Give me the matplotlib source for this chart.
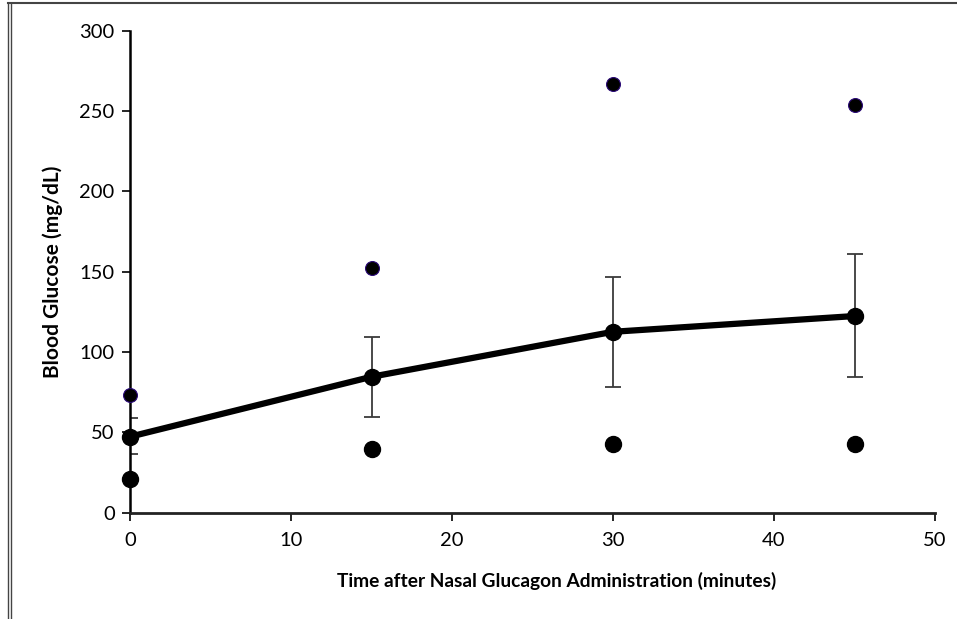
import matplotlib
matplotlib.use("Agg")
import matplotlib.pyplot as plt
from matplotlib.lines import Line2D

time_min = [0, 15, 30, 45]
mean_glucose = [47.3, 84.6, 112.6, 122.4]
err_upper = [11.4, 24.5, 34.0, 38.4]
err_lower = [10.8, 25.2, 34.2, 38.1]
max_glucose = [73.2, 152.6, 266.8, 253.9]
min_glucose = [20.8, 39.5, 42.7, 42.7]

xticks = [0, 10, 20, 30, 40, 50]
yticks = [0, 50, 100, 150, 200, 250, 300]

plt.rcParams['font.family'] = ['Lato', 'DejaVu Sans']

W, H = 957, 619
fig = plt.figure(figsize=(W / 100, H / 100), dpi=100)
ax = fig.add_axes([130 / W, (H - 512.7) / H, (935 - 130) / W, (512.7 - 30.7) / H])

ax.errorbar(time_min, mean_glucose, yerr=[err_lower, err_upper], fmt='none',
            ecolor='#3a3a3a', elinewidth=1.3, capsize=6, capthick=1.3, zorder=2)
ax.plot(time_min, mean_glucose, color='black', lw=4.5, marker='o', ms=11.5,
        zorder=3, clip_on=False)
ax.plot(time_min, max_glucose, ls='none', marker='o', ms=10, color='black',
        mec='#2b0a78', mew=0.8, zorder=3, clip_on=False)
ax.plot(time_min, min_glucose, ls='none', marker='o', ms=11.5, color='black',
        zorder=3, clip_on=False)

ax.set_xlim(0, 50)
ax.set_ylim(0, 300)
ax.set_xticks(xticks)
ax.set_yticks(yticks)
for s in ['top', 'right']:
    ax.spines[s].set_visible(False)
ax.spines['left'].set_linewidth(1.8)
ax.spines['bottom'].set_linewidth(2.0)
ax.spines['bottom'].set_color('#222222')
ax.tick_params(axis='both', direction='out', length=6, width=1.2, labelsize=14.5,
               colors='black')
ax.tick_params(axis='y', pad=5)
ax.tick_params(axis='x', pad=8)

ax.set_xlabel('Time after Nasal Glucagon Administration (minutes)', fontsize=13.8,
              fontweight='bold')
ax.xaxis.set_label_coords((557 - 130) / 805, -0.122)
ax.set_ylabel('Blood Glucose (mg/dL)', fontsize=15, fontweight='bold')
ax.yaxis.set_label_coords(-(130 - 63) / 805, 0.5)

# outer frame lines
fig.add_artist(Line2D([8 / W, 1], [1 - 3 / H, 1 - 3 / H], transform=fig.transFigure,
                      color='#444444', lw=1.5))
fig.add_artist(Line2D([8 / W, 8 / W], [0, 1 - 3 / H], transform=fig.transFigure,
                      color='#444444', lw=1.0))
fig.add_artist(Line2D([10.5 / W, 10.5 / W], [0, 1 - 3 / H], transform=fig.transFigure,
                      color='#444444', lw=1.0))

fig.savefig('out.png', dpi=100)
